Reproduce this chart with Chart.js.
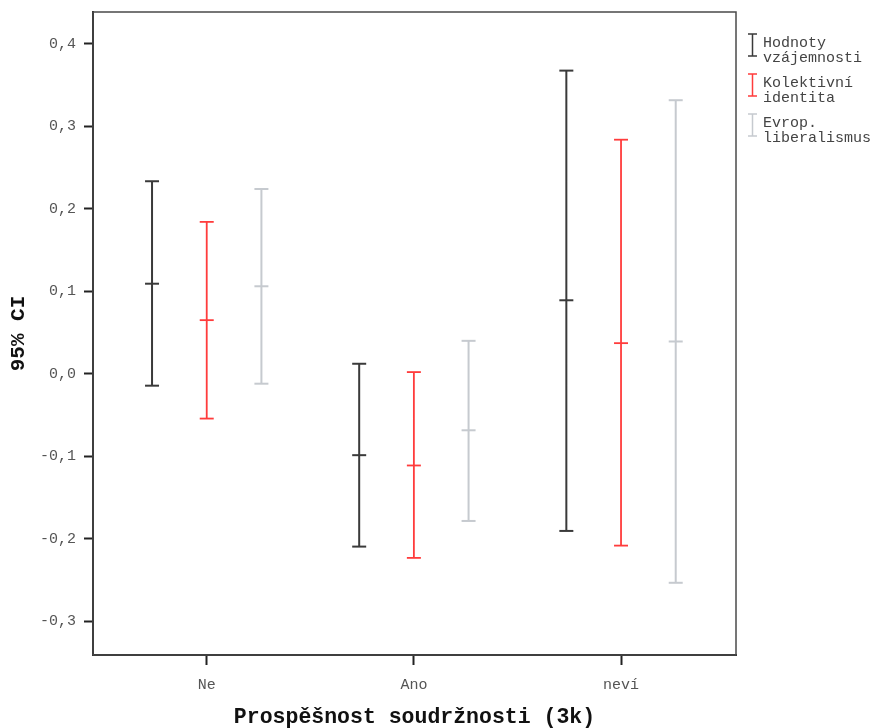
<!DOCTYPE html>
<html>
<head>
<meta charset="utf-8">
<script src="https://cdn.jsdelivr.net/npm/chart.js@4.4.1/dist/chart.umd.min.js"></script>
<style>
  html, body { margin: 0; padding: 0; background: #ffffff; }
  #wrap { width: 880px; height: 728px; }
</style>
</head>
<body>
<div id="wrap"><canvas id="c" width="880" height="728"></canvas></div>
<script>
const categories = ['Ne', 'Ano', 'neví'];
const seriesNames = [['Hodnoty', 'vzájemnosti'], ['Kolektivní', 'identita'], ['Evrop.', 'liberalismus']];
const hodnotyLow  = [-0.0145, -0.2097, -0.1907];
const hodnotyMean = [ 0.1092, -0.0988,  0.0891];
const hodnotyHigh = [ 0.2335,  0.0121,  0.3677];
const kolektivniLow  = [-0.0544, -0.2234, -0.2085];
const kolektivniMean = [ 0.0650, -0.1113,  0.0371];
const kolektivniHigh = [ 0.1842,  0.0020,  0.2839];
const evropLow  = [-0.0121, -0.1786, -0.2536];
const evropMean = [ 0.1061, -0.0686,  0.0391];
const evropHigh = [ 0.2241,  0.0399,  0.3318];
const yTicks = [-0.3, -0.2, -0.1, 0.0, 0.1, 0.2, 0.3, 0.4];
const yAxisTitle = '95% CI';
const xAxisTitle = 'Prospěšnost soudržnosti (3k)';

const colors = ['#3a3a3a', '#ff3c3c', '#c6cacf'];
const widths = [2, 1.8, 2];
const offsets = [-0.264, 0, 0.264];
const lows = [hodnotyLow, kolektivniLow, evropLow];
const means = [hodnotyMean, kolektivniMean, evropMean];
const highs = [hodnotyHigh, kolektivniHigh, evropHigh];
const MONO = '"Liberation Mono", "DejaVu Sans Mono", monospace';

const datasets = [];
for (let s = 0; s < 3; s++) {
  const whisker = [];
  const mid = [];
  categories.forEach((c, j) => {
    const x = j + 1 + offsets[s];
    whisker.push({x: x, y: lows[s][j]}, {x: x, y: highs[s][j]}, {x: x, y: null});
    mid.push({x: x, y: means[s][j]});
  });
  datasets.push({
    type: 'scatter', label: seriesNames[s].join(' '), data: whisker, showLine: true, spanGaps: false,
    borderColor: colors[s], borderWidth: widths[s], backgroundColor: colors[s],
    pointStyle: 'line', pointRadius: 7, pointBorderWidth: widths[s], pointBorderColor: colors[s],
    pointHoverRadius: 7
  });
  datasets.push({
    type: 'scatter', label: seriesNames[s].join(' ') + ' mean', data: mid, showLine: false,
    borderColor: colors[s], backgroundColor: colors[s],
    pointStyle: 'line', pointRadius: 7, pointBorderWidth: widths[s], pointBorderColor: colors[s],
    pointHoverRadius: 7
  });
}

const framePlugin = {
  id: 'frame',
  beforeDatasetsDraw(chart) {
    const a = chart.chartArea, ctx = chart.ctx;
    ctx.save();
    ctx.strokeStyle = '#4a4a4a';
    ctx.lineWidth = 1.5;
    ctx.strokeRect(a.left, a.top, a.right - a.left, a.bottom - a.top);
    ctx.restore();
  }
};

const legendPlugin = {
  id: 'sideLegend',
  afterDraw(chart) {
    const ctx = chart.ctx;
    ctx.save();
    ctx.font = '15px ' + MONO;
    ctx.textBaseline = 'middle';
    ctx.textAlign = 'left';
    const firstLine = [43, 83, 123];
    for (let s = 0; s < 3; s++) {
      const y0 = firstLine[s];
      const mx = 752.5, top = y0 - 9, bot = y0 + 13;
      ctx.strokeStyle = colors[s];
      ctx.lineWidth = 1.5;
      ctx.beginPath();
      ctx.moveTo(mx, top); ctx.lineTo(mx, bot);
      ctx.moveTo(mx - 4.5, top); ctx.lineTo(mx + 4.5, top);
      ctx.moveTo(mx - 4.5, bot); ctx.lineTo(mx + 4.5, bot);
      ctx.stroke();
      ctx.fillStyle = '#444444';
      seriesNames[s].forEach((t, k) => ctx.fillText(t, 763, y0 + k * 15.5));
    }
    ctx.restore();
  }
};

new Chart(document.getElementById('c'), {
  type: 'scatter',
  data: { datasets },
  plugins: [framePlugin, legendPlugin],
  options: {
    responsive: false,
    animation: false,
    devicePixelRatio: 1,
    layout: { padding: { left: 0, right: 144, top: 12, bottom: 0 } },
    plugins: { legend: { display: false }, tooltip: { enabled: false } },
    scales: {
      x: {
        type: 'linear', min: 0.451, max: 3.555,
        afterBuildTicks(scale) { scale.ticks = [1, 2, 3].map(v => ({value: v})); },
        afterFit(scale) { scale.height = 73; scale.paddingLeft = 0; scale.paddingRight = 0; },
        ticks: {
          callback: (v) => categories[v - 1] || '',
          font: { family: MONO, size: 15 }, color: '#555555', padding: 11, maxRotation: 0
        },
        grid: { display: true, drawOnChartArea: false, drawTicks: true, tickLength: 10, tickColor: '#222222', tickWidth: 2 },
        border: { display: true, color: '#222222', width: 2 },
        title: { display: true, text: xAxisTitle, font: { family: MONO, size: 21.5, weight: 'bold', lineHeight: 1 }, color: '#111111', padding: { top: 0, bottom: 0 } }
      },
      y: {
        type: 'linear', min: -0.3412, max: 0.4388,
        afterBuildTicks(scale) { scale.ticks = yTicks.map(v => ({value: v})); },
        afterFit(scale) { scale.width = 93; scale.paddingTop = 0; scale.paddingBottom = 0; },
        ticks: {
          callback: (v) => v.toFixed(1).replace('.', ','),
          font: { family: MONO, size: 15 }, color: '#555555', padding: 8
        },
        grid: { display: true, drawOnChartArea: false, drawTicks: true, tickLength: 9, tickColor: '#222222', tickWidth: 2 },
        border: { display: true, color: '#222222', width: 2 },
        title: { display: true, text: yAxisTitle, font: { family: MONO, size: 21, weight: 'bold', lineHeight: 1 }, color: '#111111', padding: { top: 8, bottom: 0 } }
      }
    }
  }
});
</script>
</body>
</html>
